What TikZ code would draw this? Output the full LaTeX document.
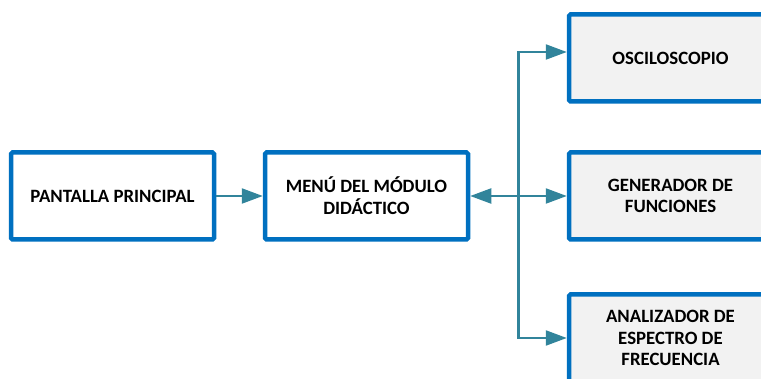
\documentclass[tikz,border=0pt]{standalone}
\usepackage{fontspec}
\setmainfont{Carlito}
\usepackage{xcolor}
\usepackage{tikz}
\usetikzlibrary{arrows.meta, positioning, calc}

\definecolor{bordeAzul}{HTML}{0070C0}
\definecolor{flechaTeal}{HTML}{31849B}
\definecolor{rellenoGris}{HTML}{F2F2F2}

\begin{document}
\begin{tikzpicture}[x=1pt, y=1pt]
\tikzstyle{bloque} = [rectangle, rounded corners=1.5pt, minimum width=203pt, minimum height=87pt, text centered, align=center, draw=bordeAzul, line width=4.5pt, fill=white, font=\fontsize{18.8}{21.7}\selectfont\bfseries]
\tikzstyle{modulo} = [bloque, fill=rellenoGris]
\tikzstyle{arrow} = [flechaTeal, line width=2.2pt, -{Triangle[length=21pt, width=15pt]}]

\useasboundingbox (0,0) rectangle (761,378);

\node (pantalla) [bloque] at (112.5,182) {PANTALLA PRINCIPAL};
\node (menu) [bloque, right=46.5pt of pantalla] {MENÚ DEL MÓDULO\\DIDÁCTICO};
\node (generador) [modulo] at (670.5,182) {GENERADOR DE\\FUNCIONES};
\node (osciloscopio) [modulo, above=46.5pt of generador] {OSCILOSCOPIO};
\node (analizador) [modulo, below=50.5pt of generador] {ANALIZADOR DE\\ESPECTRO DE\\FRECUENCIA};

\coordinate (union) at ($(menu.east)!0.5!(generador.west)$);

\draw [arrow] (pantalla) -- (menu);
\draw [arrow] (union) -- (menu);
\draw [arrow] (union) -- (generador);
\draw [arrow] (union) |- ([yshift=6pt]osciloscopio.west);
\draw [arrow] (union) |- (analizador.west);

\end{tikzpicture}
\end{document}
